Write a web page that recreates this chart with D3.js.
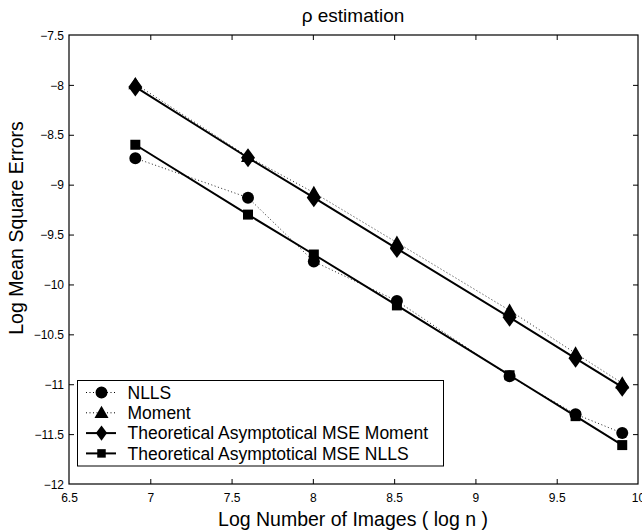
<!DOCTYPE html>
<html>
<head>
<meta charset="utf-8">
<script src="https://cdn.jsdelivr.net/npm/d3@7"></script>
<style>
  html, body { margin: 0; padding: 0; background: #fff; }
  svg { display: block; font-family: "Liberation Sans", Arial, Helvetica, sans-serif; }
</style>
</head>
<body>
<svg id="chart" width="642" height="531"></svg>
<script>
// ---- data ----
const logN = [6.908, 7.601, 8.006, 8.517, 9.210, 9.616, 9.903];
const nlls = [-8.735, -9.13, -9.77, -10.165, -10.92, -11.30, -11.49];
const moment = [-7.99, -8.72, -9.08, -9.58, -10.26, -10.69, -10.99];
const theoMoment = [-8.02, -8.73, -9.13, -9.64, -10.33, -10.74, -11.03];
const theoNlls = [-8.60, -9.30, -9.70, -10.21, -10.91, -11.32, -11.61];
const xTicks = [6.5, 7, 7.5, 8, 8.5, 9, 9.5, 10];
const yTicks = [-12, -11.5, -11, -10.5, -10, -9.5, -9, -8.5, -8, -7.5];
const seriesNames = ["NLLS", "Moment", "Theoretical Asymptotical MSE Moment", "Theoretical Asymptotical MSE NLLS"];
const titleText = "ρ estimation";
const xLabel = "Log Number of Images ( log n )";
const yLabel = "Log Mean Square Errors";

// ---- layout ----
const L = 69, R = 638, T = 35, B = 484;
const svg = d3.select("#chart");
const x = d3.scaleLinear().domain([6.5, 10]).range([L, R]);
const y = d3.scaleLinear().domain([-12, -7.5]).range([B, T]);

const fmt = v => String(v).replace("-", "\u2212");

// axes with inward ticks
const tickLen = 5;
const gx = svg.append("g").attr("transform", `translate(0,${B})`)
  .call(d3.axisBottom(x).tickValues(xTicks).tickSize(-tickLen).tickPadding(9).tickFormat(fmt));
const gxt = svg.append("g").attr("transform", `translate(0,${T})`)
  .call(d3.axisTop(x).tickValues(xTicks).tickSize(-tickLen).tickFormat(""));
const gy = svg.append("g").attr("transform", `translate(${L},0)`)
  .call(d3.axisLeft(y).tickValues(yTicks).tickSize(-tickLen).tickPadding(5).tickFormat(fmt));
const gyr = svg.append("g").attr("transform", `translate(${R},0)`)
  .call(d3.axisRight(y).tickValues(yTicks).tickSize(-tickLen).tickFormat(""));
[gx, gxt, gy, gyr].forEach(g => {
  g.select(".domain").remove();
  g.selectAll(".tick line").attr("stroke", "#000").attr("stroke-width", 1);
  g.selectAll("text").attr("fill", "#000").style("font-size", "12px")
    .style("font-family", '"Liberation Sans", Arial, sans-serif');
});
// hide tick marks at the corners
gx.selectAll(".tick").filter(d => d === 6.5 || d === 10).select("line").remove();
gxt.selectAll(".tick").filter(d => d === 6.5 || d === 10).select("line").remove();
gy.selectAll(".tick").filter(d => d === -12 || d === -7.5).select("line").remove();
gyr.selectAll(".tick").filter(d => d === -12 || d === -7.5).select("line").remove();
gy.selectAll("text").attr("dy", "0.35em");

// frame
svg.append("rect").attr("x", L).attr("y", T).attr("width", R - L).attr("height", B - T)
  .attr("fill", "none").attr("stroke", "#000").attr("stroke-width", 1.2);

// marker generators
function markerPath(type, cx, cy, s) {
  s = s || 1;
  if (type === "circle") {
    const r = 6 * s;
    return `M${cx - r},${cy}a${r},${r} 0 1,0 ${2 * r},0a${r},${r} 0 1,0 ${-2 * r},0Z`;
  }
  if (type === "triangle") {
    const w = 7 * s, h = 7 * s;
    return `M${cx},${cy - h}L${cx + w},${cy + h * 0.75}L${cx - w},${cy + h * 0.75}Z`;
  }
  if (type === "diamond") {
    const w = 7 * s, h = 9.5 * s;
    return `M${cx},${cy - h}L${cx + w},${cy}L${cx},${cy + h}L${cx - w},${cy}Z`;
  }
  const a = 5 * s;
  return `M${cx - a},${cy - a}h${2 * a}v${2 * a}h${-2 * a}Z`;
}

const series = [
  { name: seriesNames[0], vals: nlls, marker: "circle", dotted: true },
  { name: seriesNames[1], vals: moment, marker: "triangle", dotted: true },
  { name: seriesNames[2], vals: theoMoment, marker: "diamond", dotted: false },
  { name: seriesNames[3], vals: theoNlls, marker: "square", dotted: false }
];

const line = d3.line().x(d => x(d[0])).y(d => y(d[1]));
series.forEach(s => {
  const pts = logN.map((v, i) => [v, s.vals[i]]);
  svg.append("path").attr("d", line(pts)).attr("fill", "none")
    .attr("stroke", s.dotted ? "#222" : "#000")
    .attr("stroke-width", s.dotted ? 1 : 2)
    .attr("stroke-dasharray", s.dotted ? "1,2.5" : null);
  svg.append("g").selectAll("path").data(pts).join("path")
    .attr("d", d => markerPath(s.marker, x(d[0]), y(d[1])))
    .attr("fill", "#000");
});

// legend
const lg = svg.append("g");
lg.append("rect").attr("x", 77.5).attr("y", 380.5).attr("width", 366).attr("height", 85.5)
  .attr("fill", "#fff").attr("stroke", "#000").attr("stroke-width", 1);
series.forEach((s, i) => {
  const cy = 392.5 + i * 20.3;
  lg.append("line").attr("x1", 86).attr("x2", 116).attr("y1", cy).attr("y2", cy)
    .attr("stroke", "#000").attr("stroke-width", s.dotted ? 1 : 2)
    .attr("stroke-dasharray", s.dotted ? "1,2.5" : null);
  lg.append("path").attr("d", markerPath(s.marker, 101.5, cy, s.marker === "diamond" ? 0.8 : (s.marker === "square" ? 0.85 : 1)))
    .attr("fill", "#000");
  lg.append("text").attr("x", 127.5).attr("y", cy).attr("dy", "0.36em")
    .style("font-size", "17.5px").attr("fill", "#000").text(s.name);
});

// labels
svg.append("text").attr("x", 353).attr("y", 22).attr("text-anchor", "middle")
  .style("font-size", "19px").attr("fill", "#000").text(titleText);
svg.append("text").attr("x", 353).attr("y", 526).attr("text-anchor", "middle")
  .style("font-size", "19.5px").attr("fill", "#000").text(xLabel);
svg.append("text").attr("transform", "translate(23,228) rotate(-90)").attr("text-anchor", "middle")
  .style("font-size", "19.5px").attr("fill", "#000").text(yLabel);
</script>
</body>
</html>
